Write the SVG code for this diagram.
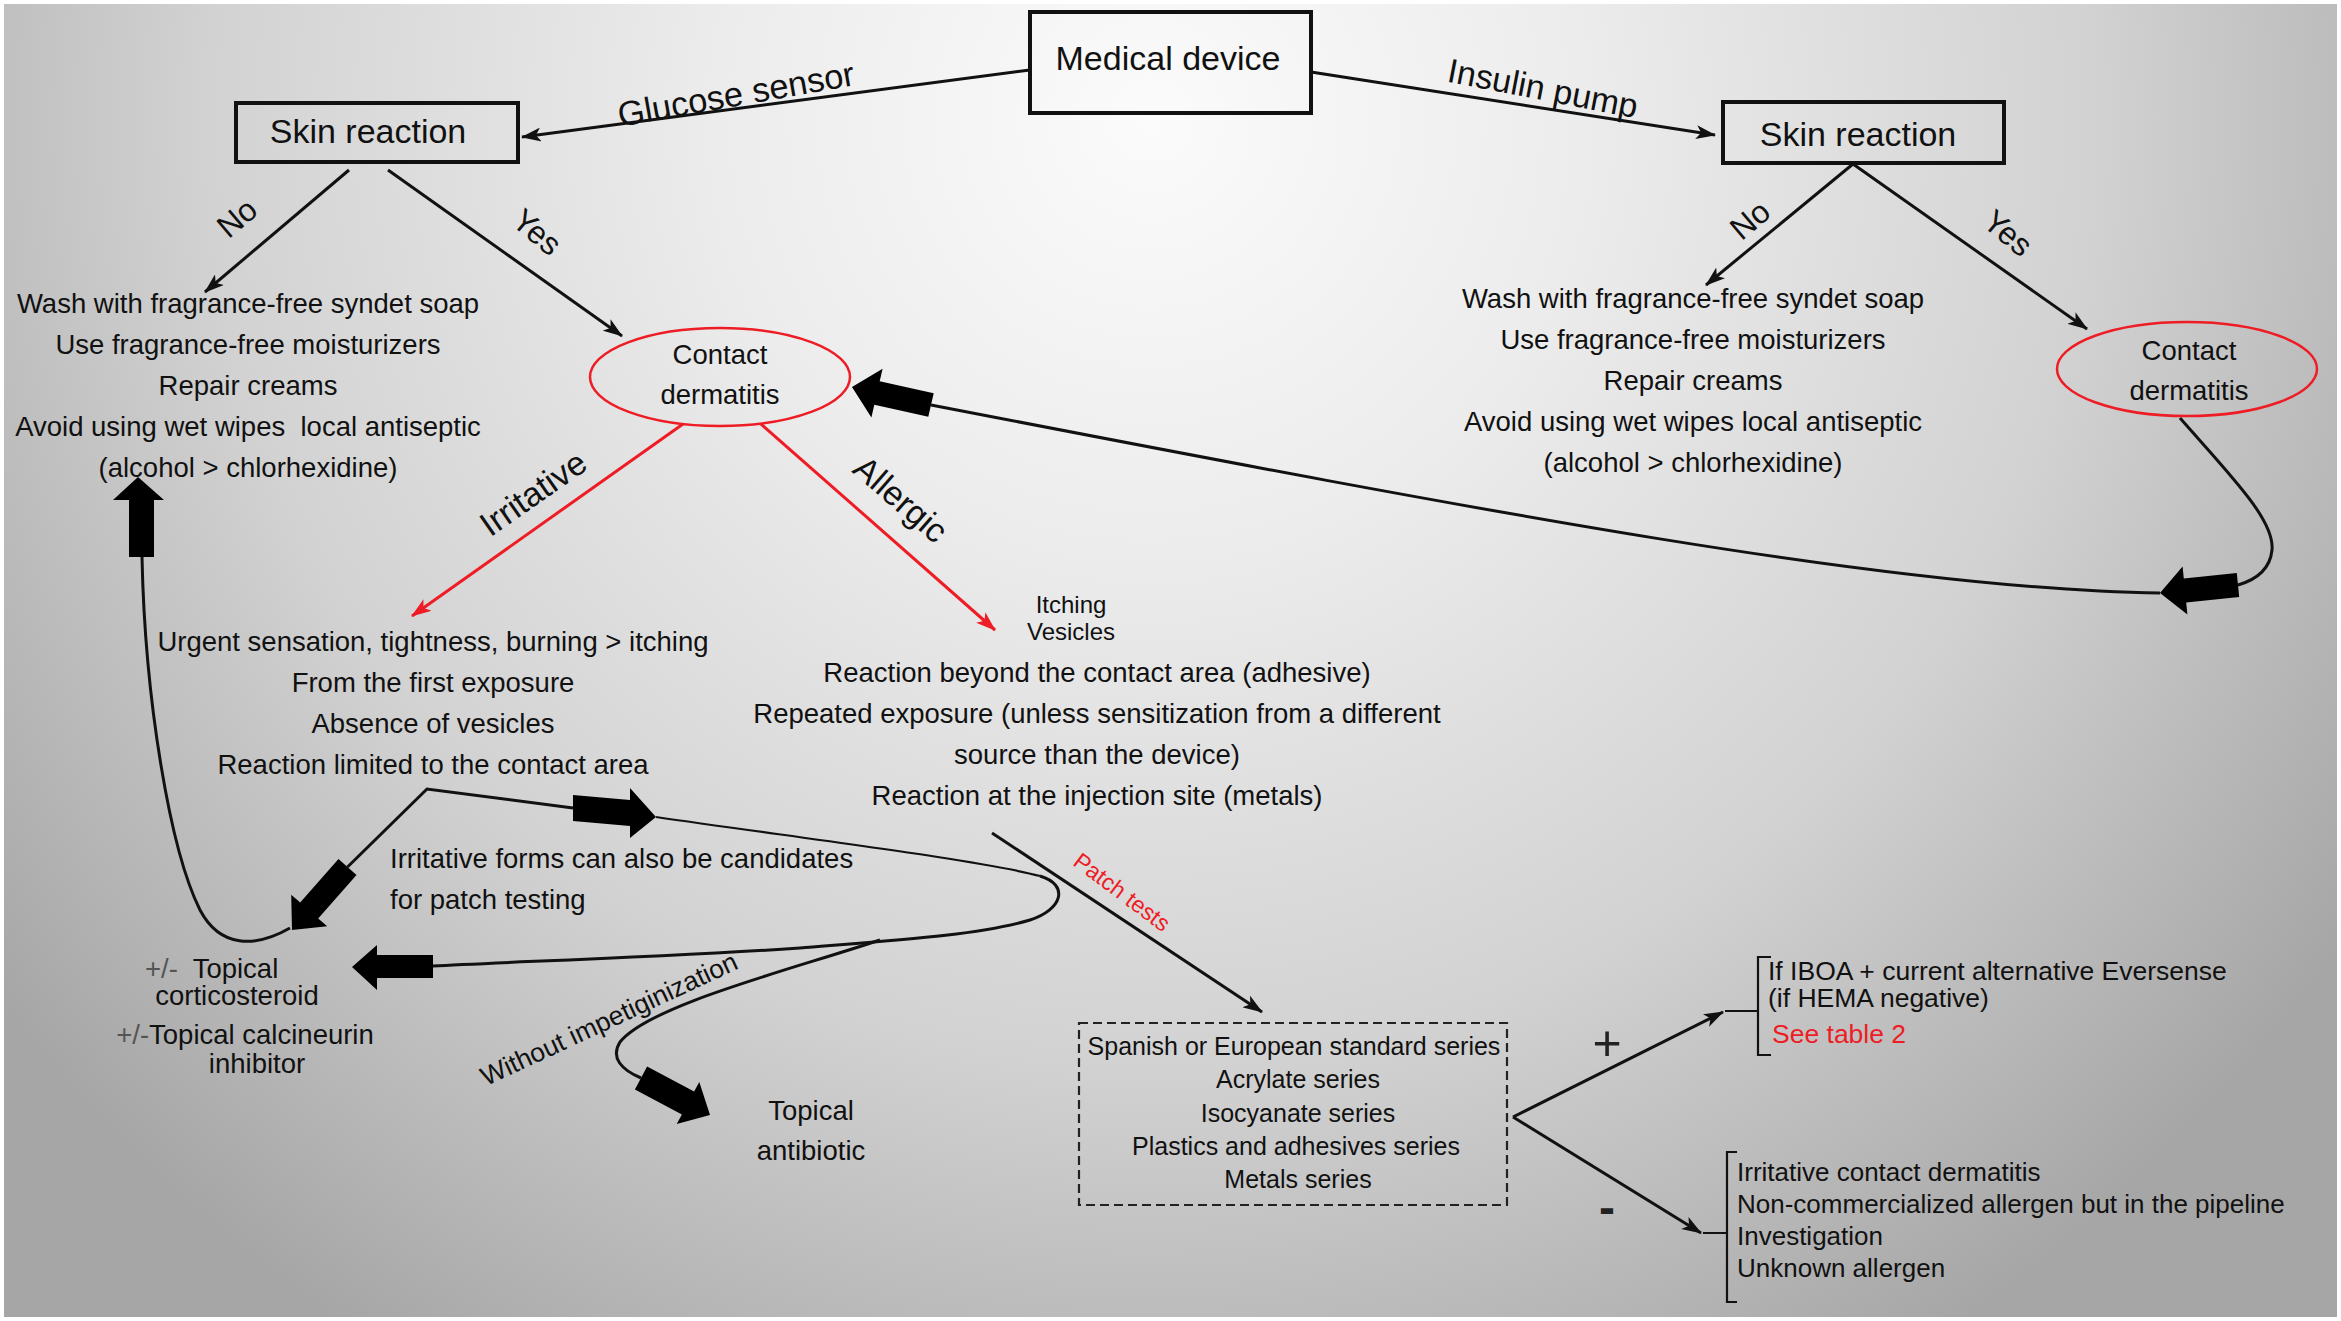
<svg xmlns="http://www.w3.org/2000/svg" width="2341" height="1321" viewBox="0 0 2341 1321">
<style>
.t{font-family:"Liberation Sans",Arial,Helvetica,sans-serif;fill:#111;}
.m{text-anchor:middle;}
.f34{font-size:34px;}
.f32{font-size:32px;}
.f27{font-size:27.5px;}
.f26{font-size:26px;}
.f25{font-size:25px;}
.f24{font-size:24px;}
.red{fill:#ee1c24;}
.box{fill:none;stroke:#111;stroke-width:4;}
.ell{fill:none;stroke:#ee1c24;stroke-width:2.5;}
.ln{fill:none;stroke:#111;stroke-width:3;}
.thin{fill:none;stroke:#111;stroke-width:2.2;}
.rl{fill:none;stroke:#ee1c24;stroke-width:3;}
.blk{fill:#000;stroke:none;}
.dash{fill:none;stroke:#222;stroke-width:2.2;stroke-dasharray:9 5;}
</style>
<defs>
<radialGradient id="bg" gradientUnits="userSpaceOnUse" cx="1150" cy="120" r="1450">
<stop offset="0" stop-color="#fbfbfb"/>
<stop offset="0.3" stop-color="#ececec"/>
<stop offset="0.65" stop-color="#d2d2d2"/>
<stop offset="1" stop-color="#a6a6a6"/>
</radialGradient>
<marker id="ah" viewBox="0 0 20 14" refX="19" refY="7" markerWidth="20" markerHeight="14" markerUnits="userSpaceOnUse" orient="auto">
<path d="M0,0 L20,7 L0,14 L5,7 z" fill="#111"/>
</marker>
<marker id="ahr" viewBox="0 0 20 14" refX="19" refY="7" markerWidth="20" markerHeight="14" markerUnits="userSpaceOnUse" orient="auto">
<path d="M0,0 L20,7 L0,14 L5,7 z" fill="#ee1c24"/>
</marker>
</defs>
<rect x="0" y="0" width="2341" height="1321" fill="#ffffff"/>
<rect x="4" y="4" width="2333" height="1313" fill="url(#bg)"/>

<g id="connectors">
<line class="ln" x1="1030" y1="70" x2="522" y2="137" marker-end="url(#ah)"/>
<line class="ln" x1="1311" y1="72" x2="1715" y2="135" marker-end="url(#ah)"/>
<line class="ln" x1="349" y1="170" x2="205" y2="292" marker-end="url(#ah)"/>
<line class="ln" x1="388" y1="170" x2="622" y2="336" marker-end="url(#ah)"/>
<line class="ln" x1="1853" y1="164" x2="1706" y2="285" marker-end="url(#ah)"/>
<line class="ln" x1="1853" y1="164" x2="2087" y2="329" marker-end="url(#ah)"/>
<line class="rl" x1="683" y1="424" x2="412" y2="616" marker-end="url(#ahr)"/>
<line class="rl" x1="761" y1="424" x2="995" y2="630" marker-end="url(#ahr)"/>
<path class="ln" d="M2180,418 C2230,475 2275,520 2272,550 C2270,570 2255,580 2238,585"/>
<path class="ln" d="M2160,593 C1900,590 1500,515 931,405"/>
<polygon class="blk" points="2239.2,596.9 2186.2,602.4 2187.4,614.4 2160,593 2182.6,566.6 2183.8,578.6 2236.8,573.1"/>
<polygon class="blk" points="928.3,416.7 874.3,404.7 871.4,417.4 852,387 882.6,368.7 879.7,381.3 933.7,393.3"/>
<polyline class="ln" points="347.5,867 427,789 573,808"/>
<polygon class="blk" points="356.5,874.9 318.2,918.4 327.2,926.3 292,930 291.2,894.7 300.2,902.6 338.5,859.1"/>
<polygon class="blk" points="573,795 630,800 630,788 656,817 630,838 630,826 573,821"/>
<path class="thin" d="M656,817 C800,838 980,860 1040,876"/>
<path class="ln" d="M1040,876 C1070,885 1062,910 1030,920 C980,935 900,940 800,948 C650,958 500,962 433,966"/>
<polygon class="blk" points="433,955 377,955 377,945 352,967 377,990 377,978 433,978"/>
<path class="ln" d="M880,940 C790,970 650,1005 620,1042 C610,1058 622,1070 641,1078"/>
<polygon class="blk" points="634.9,1089.4 681.9,1114.4 676.7,1124.1 710,1115 699.3,1081.9 694.1,1091.6 647.1,1066.6"/>
<path class="ln" d="M290,928 C255,948 220,948 200,910 C170,850 145,700 142,557"/>
<polygon class="blk" points="129,557 129,500 113,500 138,477 164,500 154,500 154,557"/>
<line class="ln" x1="992" y1="833" x2="1262" y2="1012" marker-end="url(#ah)"/>
<line class="ln" x1="1513" y1="1117" x2="1723" y2="1012" marker-end="url(#ah)"/>
<line class="ln" x1="1513" y1="1117" x2="1701" y2="1233" marker-end="url(#ah)"/>
<path class="thin" d="M1771,957 L1758,957 L1758,1055 L1771,1055 M1725,1011 L1758,1011"/>
<path class="thin" d="M1737,1152 L1727,1152 L1727,1302 L1737,1302 M1703,1233 L1727,1233"/>
</g>

<g id="edge-labels">
<text class="t m" style="font-size:34.5px" transform="translate(736,94) rotate(-10)" x="0" y="12">Glucose sensor</text>
<text class="t m" style="font-size:34px" transform="translate(1543,88) rotate(11)" x="0" y="12">Insulin pump</text>
<text class="t f32 m" transform="translate(237,218) rotate(-40)" x="0" y="11">No</text>
<text class="t f32 m" transform="translate(537,232) rotate(40)" x="0" y="11">Yes</text>
<text class="t f32 m" transform="translate(1750,220) rotate(-40)" x="0" y="11">No</text>
<text class="t f32 m" transform="translate(2008,233) rotate(40)" x="0" y="11">Yes</text>
<text class="t f34 m" transform="translate(533,493) rotate(-35)" x="0" y="12">Irritative</text>
<text class="t f34 m" transform="translate(901,499) rotate(41)" x="0" y="12">Allergic</text>
<text class="t m" style="font-size:26.5px" transform="translate(609,1019) rotate(-25)" x="0" y="9">Without impetiginization</text>
<text class="t red m" style="font-size:23px" transform="translate(1122,892) rotate(37)" x="0" y="8">Patch tests</text>
<text class="t m" style="font-size:50px;fill:#222" x="1607" y="1060">+</text>
<text class="t m" style="font-size:48px;font-weight:bold;fill:#222" x="1607" y="1224">-</text>
</g>

<g id="medical-device">
<rect class="box" x="1030" y="12" width="281" height="101"/>
<text class="t f34 m" x="1168" y="70">Medical device</text>
</g>

<g id="skin-reaction-left">
<rect class="box" x="236" y="103" width="282" height="59"/>
<text class="t f34 m" x="368" y="143">Skin reaction</text>
</g>

<g id="skin-reaction-right">
<rect class="box" x="1723" y="102" width="281" height="61"/>
<text class="t f34 m" x="1858" y="146">Skin reaction</text>
</g>

<g id="no-care-left">
<text class="t f27 m" x="248" y="313">Wash with fragrance-free syndet soap</text>
<text class="t f27 m" x="248" y="354">Use fragrance-free moisturizers</text>
<text class="t f27 m" x="248" y="395">Repair creams</text>
<text class="t f27 m" x="248" y="436">Avoid using wet wipes&#160; local antiseptic</text>
<text class="t f27 m" x="248" y="477">(alcohol &gt; chlorhexidine)</text>
</g>

<g id="no-care-right">
<text class="t f27 m" x="1693" y="308">Wash with fragrance-free syndet soap</text>
<text class="t f27 m" x="1693" y="349">Use fragrance-free moisturizers</text>
<text class="t f27 m" x="1693" y="390">Repair creams</text>
<text class="t f27 m" x="1693" y="431">Avoid using wet wipes local antiseptic</text>
<text class="t f27 m" x="1693" y="472">(alcohol &gt; chlorhexidine)</text>
</g>

<g id="contact-dermatitis-left">
<ellipse class="ell" cx="720" cy="377" rx="130" ry="49"/>
<text class="t f27 m" x="720" y="364">Contact</text>
<text class="t f27 m" x="720" y="404">dermatitis</text>
</g>

<g id="contact-dermatitis-right">
<ellipse class="ell" cx="2187" cy="369" rx="130" ry="47"/>
<text class="t f27 m" x="2189" y="360">Contact</text>
<text class="t f27 m" x="2189" y="400">dermatitis</text>
</g>

<g id="irritative-signs">
<text class="t f27 m" x="433" y="651">Urgent sensation, tightness, burning &gt; itching</text>
<text class="t f27 m" x="433" y="692">From the first exposure</text>
<text class="t f27 m" x="433" y="733">Absence of vesicles</text>
<text class="t f27 m" x="433" y="774">Reaction limited to the contact area</text>
</g>

<g id="allergic-signs">
<text class="t f24 m" x="1071" y="613">Itching</text>
<text class="t f24 m" x="1071" y="640">Vesicles</text>
<text class="t f27 m" x="1097" y="682">Reaction beyond the contact area (adhesive)</text>
<text class="t f27 m" x="1097" y="723">Repeated exposure (unless sensitization from a different</text>
<text class="t f27 m" x="1097" y="764">source than the device)</text>
<text class="t f27 m" x="1097" y="805">Reaction at the injection site (metals)</text>
</g>

<g id="patch-candidates">
<text class="t f27" x="390" y="868">Irritative forms can also be candidates</text>
<text class="t f27" x="390" y="909">for patch testing</text>
</g>

<g id="corticosteroid">
<text class="t f27" x="145" y="978"><tspan style="fill:#555">+/-</tspan>&#160; Topical</text>
<text class="t f27 m" x="237" y="1005">corticosteroid</text>
<text class="t f27 m" x="245" y="1044"><tspan style="fill:#555">+/-</tspan>Topical calcineurin</text>
<text class="t f27 m" x="257" y="1073">inhibitor</text>
</g>

<g id="antibiotic">
<text class="t f27 m" x="811" y="1120">Topical</text>
<text class="t f27 m" x="811" y="1160">antibiotic</text>
</g>

<g id="patch-series">
<rect class="dash" x="1079" y="1023" width="428" height="182"/>
<text class="t f25 m" x="1294" y="1055">Spanish or European standard series</text>
<text class="t f25 m" x="1298" y="1088">Acrylate series</text>
<text class="t f25 m" x="1298" y="1122">Isocyanate series</text>
<text class="t f25 m" x="1296" y="1155">Plastics and adhesives series</text>
<text class="t f25 m" x="1298" y="1188">Metals series</text>
</g>

<g id="positive-result">
<text class="t" style="font-size:26.5px" x="1768" y="980">If IBOA + current alternative Eversense</text>
<text class="t" style="font-size:26.5px" x="1768" y="1007">(if HEMA negative)</text>
<text class="t red" style="font-size:26.5px" x="1772" y="1043">See table 2</text>
</g>

<g id="negative-result">
<text class="t f26" x="1737" y="1181">Irritative contact dermatitis</text>
<text class="t f26" x="1737" y="1213">Non-commercialized allergen but in the pipeline</text>
<text class="t f26" x="1737" y="1245">Investigation</text>
<text class="t f26" x="1737" y="1277">Unknown allergen</text>
</g>
</svg>
